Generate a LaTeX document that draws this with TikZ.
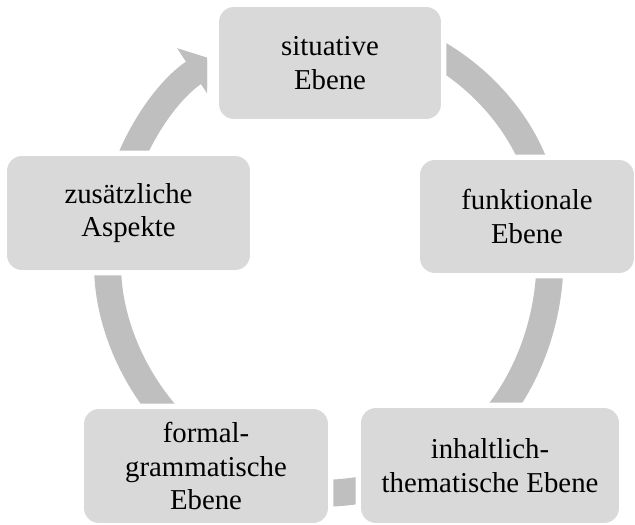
\documentclass[tikz,border=0pt]{standalone}
\usepackage{fontspec}
\setmainfont{Liberation Serif}
\usetikzlibrary{arrows.meta}
\definecolor{boxgray}{RGB}{217,217,217}
\definecolor{arcgray}{RGB}{191,191,191}
\begin{document}
\begin{tikzpicture}[
    x=0.02cm, y=-0.02cm,
    level_box/.style={rectangle, rounded corners=0.3cm, fill=boxgray, align=center, inner sep=0pt,
        font=\fontsize{16.4}{19.2}\selectfont, preaction={draw=white, line width=0.22cm}},
    cycle_arc/.style={-{Triangle[width=1.16cm, length=0.48cm]}, arcgray, line width=0.54cm}
]
    \useasboundingbox (0,0) rectangle (635,524);
    \coordinate (M) at (330,258);
    \draw[cycle_arc] ([shift={(-75:220 and 234)}]M) arc[start angle=-75, end angle=-10, x radius=220, y radius=234];
    \draw[cycle_arc] ([shift={(-5:220 and 234)}]M) arc[start angle=-5, end angle=62, x radius=220, y radius=234];
    \draw[cycle_arc] ([shift={(70:220 and 234)}]M) arc[start angle=70, end angle=110, x radius=220, y radius=234];
    \draw[cycle_arc] ([shift={(122:220 and 234)}]M) arc[start angle=122, end angle=190, x radius=220, y radius=234];
    \begin{scope}
        \clip (0,0) rectangle (207,524);
        \draw[cycle_arc] ([shift={(195:220 and 234)}]M) arc[start angle=195, end angle=238, x radius=220, y radius=234];
    \end{scope}
    \node[level_box, minimum width=4.44cm, minimum height=2.24cm] (situ) at (330,63) {situative\\Ebene};
    \node[level_box, minimum width=4.28cm, minimum height=2.26cm] (funk) at (527,216.5) {funktionale\\Ebene};
    \node[level_box, minimum width=5.16cm, minimum height=2.30cm] (inha) at (490,465.5) {inhaltlich-\\thematische Ebene};
    \node[level_box, minimum width=4.88cm, minimum height=2.28cm] (form) at (206,466) {formal-\\grammatische\\Ebene};
    \node[level_box, minimum width=4.86cm, minimum height=2.28cm] (zusa) at (128.5,213) {zusätzliche\\Aspekte};
\end{tikzpicture}
\end{document}
